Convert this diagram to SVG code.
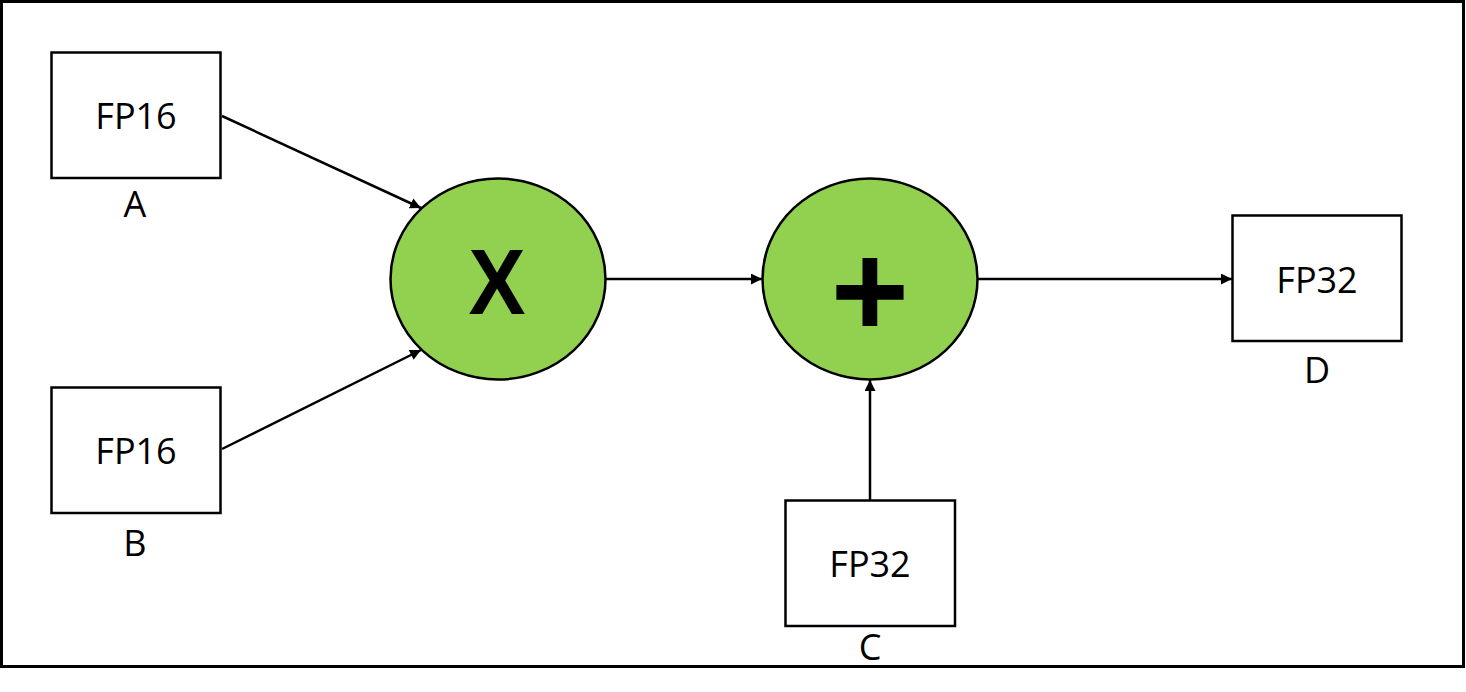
<svg xmlns="http://www.w3.org/2000/svg" width="1466" height="692" viewBox="0 0 1466 692">
<style>
.box{fill:#ffffff;stroke:#000000;stroke-width:2.5}
.op{fill:#92D050;stroke:#000000;stroke-width:2.5}
.t{font-family:"Open Sans","Noto Sans","Liberation Sans",sans-serif;font-size:36px;fill:#000000;text-anchor:middle}
.sym{font-family:"Liberation Sans",Arial,sans-serif;font-weight:bold;fill:#000000;text-anchor:middle}
.c{fill:none;stroke:#000000;stroke-width:2.5}
</style>
<defs>
<marker id="arr" markerUnits="userSpaceOnUse" markerWidth="12" markerHeight="12" refX="11" refY="5.5" orient="auto">
<path d="M0,0 L11,5.5 L0,11 Z" fill="#000000"/>
</marker>
</defs>
<rect x="0" y="0" width="1466" height="692" fill="#ffffff"/>
<rect id="frame" x="1.5" y="1.5" width="1462" height="665" fill="none" stroke="#000000" stroke-width="3"/>
<g id="connectors">
<line class="c" x1="222" y1="116" x2="421" y2="208" marker-end="url(#arr)"/>
<line class="c" x1="222" y1="449" x2="421" y2="350" marker-end="url(#arr)"/>
<line class="c" x1="606" y1="279" x2="762" y2="279" marker-end="url(#arr)"/>
<line class="c" x1="978" y1="279" x2="1232" y2="279" marker-end="url(#arr)"/>
<line class="c" x1="870" y1="500" x2="870" y2="380" marker-end="url(#arr)"/>
</g>
<g id="nodeA">
<rect class="box" x="51.5" y="52.5" width="169" height="125.5"/>
<text class="t" x="136" y="129">FP16</text>
<text class="t" x="135" y="217">A</text>
</g>
<g id="nodeB">
<rect class="box" x="51.5" y="387.5" width="169" height="125.5"/>
<text class="t" x="136" y="464">FP16</text>
<text class="t" x="135" y="556">B</text>
</g>
<g id="mul">
<ellipse class="op" cx="498" cy="279" rx="107.5" ry="100.5"/>
<text class="sym" x="0" y="314" font-size="93" transform="translate(497 0) scale(0.92 1)">X</text>
</g>
<g id="add">
<ellipse class="op" cx="870" cy="279" rx="107.5" ry="100.5"/>
<text class="sym" x="870" y="337" font-size="134">+</text>
</g>
<g id="nodeC">
<rect class="box" x="785.5" y="500.5" width="169.5" height="125.5"/>
<text class="t" x="870" y="577">FP32</text>
<text class="t" x="870" y="660">C</text>
</g>
<g id="nodeD">
<rect class="box" x="1232.5" y="215.5" width="169" height="125.5"/>
<text class="t" x="1317" y="293">FP32</text>
<text class="t" x="1317" y="383">D</text>
</g>
</svg>
